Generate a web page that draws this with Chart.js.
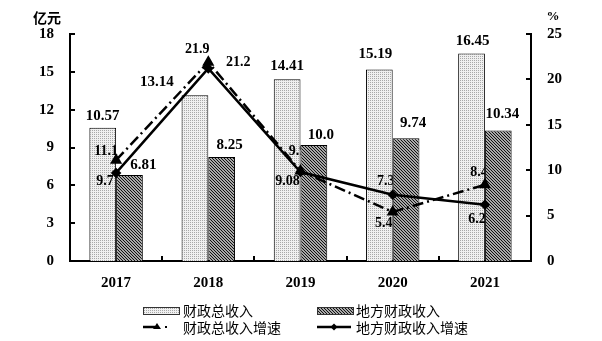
<!DOCTYPE html>
<html>
<head>
<meta charset="utf-8">
<script src="https://cdn.jsdelivr.net/npm/chart.js@4.4.1/dist/chart.umd.min.js"></script>
<style>
    body { margin: 0; background: #fff; }
    #wrap { position: relative; width: 602px; height: 341px; }
    #chart { position: absolute; left: 0; top: 0; }
    .leg { position: absolute; font: 14px "Noto Sans CJK SC", sans-serif; line-height: 16px; color: #000; white-space: nowrap; }
    .swatch { position: absolute; box-sizing: border-box; border: 1px solid #333; }
    .lineSwatch { position: absolute; }
</style>
</head>
<body>
<div id="wrap">
    <canvas id="chart" width="602" height="341"></canvas>
</div>
<script>
//-----------------------------------------------------------------------------
// data
//-----------------------------------------------------------------------------
const years        = ['2017', '2018', '2019', '2020', '2021'];
const totalRevenue = [10.57, 13.14, 14.41, 15.19, 16.45];   // 财政总收入 (亿元)
const localRevenue = [6.81, 8.25, 9.2, 9.74, 10.34];        // 地方财政收入 (亿元)
const totalGrowth  = [11.1, 21.9, 9.9, 5.4, 8.4];           // 财政总收入增速 (%)
const localGrowth  = [9.7, 21.2, 9.8, 7.3, 6.2];            // 地方财政收入增速 (%)

// the numbers as they are printed on the chart
const totalRevenueText = ['10.57', '13.14', '14.41', '15.19', '16.45'];
const localRevenueText = ['6.81', '8.25', '10.0', '9.74', '10.34'];
const totalGrowthText  = ['11.1', '21.9', '9.9', '5.4', '8.4'];
const localGrowthText  = ['9.7', '21.2', '9.08', '7.3', '6.2'];

const leftTickValues  = [0, 3, 6, 9, 12, 15, 18];
const rightTickValues = [0, 5, 10, 15, 20, 25];

const seriesNames = ['财政总收入', '地方财政收入', '财政总收入增速', '地方财政收入增速'];

//-----------------------------------------------------------------------------
// where each printed number sits relative to its bar top / point (dx, dy)
//-----------------------------------------------------------------------------
const labelShift = {
    total:       [[0, -12], [-38, -13], [0, -13], [-4, -15], [1, -12]],
    local:       [[14, -10], [8, -12], [7, -10], [7, -15], [4, -16]],
    totalGrowth: [[-10, -9], [-11, -13], [-3, -20], [-9, 11], [-6, -12]],
    localGrowth: [[-11, 8], [30, -6], [-13, 9], [-7, -13], [-8, 15]]
};

const serif = '"Liberation Serif", "Times New Roman", serif';
const cjk   = '"Noto Sans CJK SC", sans-serif';

//-----------------------------------------------------------------------------
// fill patterns for the two bar series
//-----------------------------------------------------------------------------
function makePattern(kind) {
    const c = document.createElement('canvas');
    const g = c.getContext('2d');
    if (kind === 'dots') {
        c.width = 2; c.height = 2;
        g.fillStyle = '#f0f0f0';
        g.fillRect(0, 0, 2, 2);
        g.fillStyle = '#a8a8a8';
        g.fillRect(0, 0, 1, 1);
    } else {
        c.width = 3; c.height = 3;
        g.fillStyle = '#a8a8a8';
        g.fillRect(0, 0, 3, 3);
        g.fillStyle = '#111';
        for (let i = 0; i < 3; i++) g.fillRect(i, i, 1, 1);
    }
    return c;
}

const dotsTile  = makePattern('dots');
const hatchTile = makePattern('hatch');
const ctx = document.getElementById('chart').getContext('2d');
const dotsFill  = ctx.createPattern(dotsTile, 'repeat');
const hatchFill = ctx.createPattern(hatchTile, 'repeat');

//-----------------------------------------------------------------------------
// printed numbers, inward tick marks and unit titles
//-----------------------------------------------------------------------------
function drawTexts(chart, dsIndex, texts, shifts, size) {
    const c = chart.ctx;
    const meta = chart.getDatasetMeta(dsIndex);
    c.save();
    c.font = `bold ${size}px ${serif}`;
    c.fillStyle = '#000';
    c.textAlign = 'center';
    c.textBaseline = 'middle';
    meta.data.forEach((el, i) => {
        c.fillText(texts[i], el.x + shifts[i][0], el.y + shifts[i][1]);
    });
    c.restore();
}

const chartDecor = {
    id: 'chartDecor',
    afterDatasetDraw(chart, args) {
        // growth numbers go over the light bars but are hidden by the dark ones
        if (args.index !== 0) return;
        const c = chart.ctx;
        c.save();
        c.beginPath();
        c.rect(0, 0, chart.width, chart.height);
        chart.getDatasetMeta(1).data.forEach(el => {
            c.rect(el.x - el.width / 2, el.y, el.width, el.base - el.y);
        });
        c.clip('evenodd');
        drawTexts(chart, 2, totalGrowthText, labelShift.totalGrowth, 14);
        drawTexts(chart, 3, localGrowthText, labelShift.localGrowth, 14);
        c.restore();
    },
    afterDatasetsDraw(chart) {
        drawTexts(chart, 0, totalRevenueText, labelShift.total, 15);
        drawTexts(chart, 1, localRevenueText, labelShift.local, 15);
    },
    afterDraw(chart) {
        const c = chart.ctx;
        const {x, y, y1} = chart.scales;
        const a = chart.chartArea;
        c.save();
        c.strokeStyle = '#000';
        c.lineWidth = 2;
        c.beginPath();
        y.ticks.forEach(t => {
            const py = Math.round(y.getPixelForValue(t.value));
            c.moveTo(a.left, py); c.lineTo(a.left + 5, py);
        });
        y1.ticks.forEach(t => {
            const py = Math.round(y1.getPixelForValue(t.value));
            c.moveTo(a.right, py); c.lineTo(a.right - 5, py);
        });
        for (let i = 0; i < years.length - 1; i++) {
            const px = Math.round((x.getPixelForTick(i) + x.getPixelForTick(i + 1)) / 2);
            c.moveTo(px, a.bottom); c.lineTo(px, a.bottom - 5);
        }
        c.stroke();

        c.fillStyle = '#000';
        c.textAlign = 'center';
        c.textBaseline = 'middle';
        c.font = `bold 14px ${cjk}`;
        c.fillText('亿元', 47, 18);
        c.font = `bold 13px ${serif}`;
        c.fillText('%', 553, 17);
        c.restore();
    }
};

//-----------------------------------------------------------------------------
// the chart
//-----------------------------------------------------------------------------
const tickFont = { family: serif, size: 15, weight: 'bold' };

new Chart(ctx, {
    type: 'bar',
    data: {
        labels: years,
        datasets: [
            {
                label: seriesNames[0],
                data: totalRevenue,
                yAxisID: 'y',
                backgroundColor: dotsFill,
                borderColor: '#000',
                borderWidth: 1,
                categoryPercentage: 0.58,
                barPercentage: 1,
                order: 2
            },
            {
                label: seriesNames[1],
                data: localRevenue,
                yAxisID: 'y',
                backgroundColor: hatchFill,
                borderColor: '#000',
                borderWidth: 1,
                categoryPercentage: 0.58,
                barPercentage: 1,
                order: 3
            },
            {
                type: 'line',
                label: seriesNames[2],
                data: totalGrowth,
                yAxisID: 'y1',
                borderColor: '#000',
                borderWidth: 2.5,
                borderDash: [11, 4, 2, 4],
                pointStyle: 'triangle',
                pointRadius: 4.5,
                pointBackgroundColor: '#000',
                pointBorderColor: '#000',
                tension: 0,
                order: 1
            },
            {
                type: 'line',
                label: seriesNames[3],
                data: localGrowth,
                yAxisID: 'y1',
                borderColor: '#000',
                borderWidth: 2.5,
                pointStyle: 'rectRot',
                pointRadius: 3.5,
                pointBackgroundColor: '#000',
                pointBorderColor: '#000',
                tension: 0,
                order: 0
            }
        ]
    },
    options: {
        responsive: false,
        animation: false,
        layout: { padding: { top: 34, left: 0, right: 0, bottom: 0 } },
        plugins: {
            legend: { display: false },
            tooltip: { enabled: false }
        },
        scales: {
            x: {
                offset: true,
                grid: { display: false, drawTicks: false },
                border: { color: '#000', width: 2 },
                ticks: { font: tickFont, color: '#000', padding: 13 },
                afterFit: s => { s.height = 80; }
            },
            y: {
                position: 'left',
                min: leftTickValues[0],
                max: leftTickValues[leftTickValues.length - 1],
                grid: { display: false, drawTicks: false },
                border: { color: '#000', width: 2 },
                ticks: { stepSize: leftTickValues[1] - leftTickValues[0], font: tickFont, color: '#000', padding: 16 },
                afterFit: s => { s.width = 70; }
            },
            y1: {
                position: 'right',
                min: rightTickValues[0],
                max: rightTickValues[rightTickValues.length - 1],
                grid: { display: false, drawTicks: false },
                border: { color: '#000', width: 2 },
                ticks: { stepSize: rightTickValues[1] - rightTickValues[0], font: tickFont, color: '#000', padding: 16 },
                afterFit: s => { s.width = 71; }
            }
        }
    },
    plugins: [chartDecor]
});

//-----------------------------------------------------------------------------
// legend, two rows of two
//-----------------------------------------------------------------------------
const wrap = document.getElementById('wrap');

function addText(text, left, top) {
    const d = document.createElement('div');
    d.className = 'leg';
    d.textContent = text;
    d.style.left = left + 'px';
    d.style.top = top + 'px';
    wrap.appendChild(d);
}

function addBox(tile, left, top) {
    const d = document.createElement('div');
    d.className = 'swatch';
    d.style.left = left + 'px';
    d.style.top = top + 'px';
    d.style.width = '37px';
    d.style.height = '8px';
    d.style.backgroundImage = `url(${tile.toDataURL()})`;
    wrap.appendChild(d);
}

function addLine(left, top, width, draw) {
    const c = document.createElement('canvas');
    c.className = 'lineSwatch';
    c.width = width; c.height = 12;
    c.style.left = left + 'px';
    c.style.top = top + 'px';
    const g = c.getContext('2d');
    g.fillStyle = '#000';
    g.strokeStyle = '#000';
    draw(g);
    wrap.appendChild(c);
}

addBox(dotsTile, 143, 307);
addText(seriesNames[0], 183, 302);
addBox(hatchTile, 317, 307);
addText(seriesNames[1], 356, 302);

addLine(141, 321, 30, g => {
    g.lineWidth = 2.5;
    g.beginPath(); g.moveTo(2, 6); g.lineTo(14, 6); g.stroke();
    g.beginPath(); g.moveTo(16, 2); g.lineTo(20, 8); g.lineTo(12, 8); g.closePath(); g.fill();
    g.fillRect(24, 5, 2, 2);
});
addText(seriesNames[2], 183, 319);

addLine(315, 321, 40, g => {
    g.lineWidth = 2.5;
    g.beginPath(); g.moveTo(2, 6); g.lineTo(36, 6); g.stroke();
    g.beginPath(); g.moveTo(19, 2.5); g.lineTo(22.5, 6); g.lineTo(19, 9.5); g.lineTo(15.5, 6); g.closePath(); g.fill();
});
addText(seriesNames[3], 356, 319);
</script>
</body>
</html>
